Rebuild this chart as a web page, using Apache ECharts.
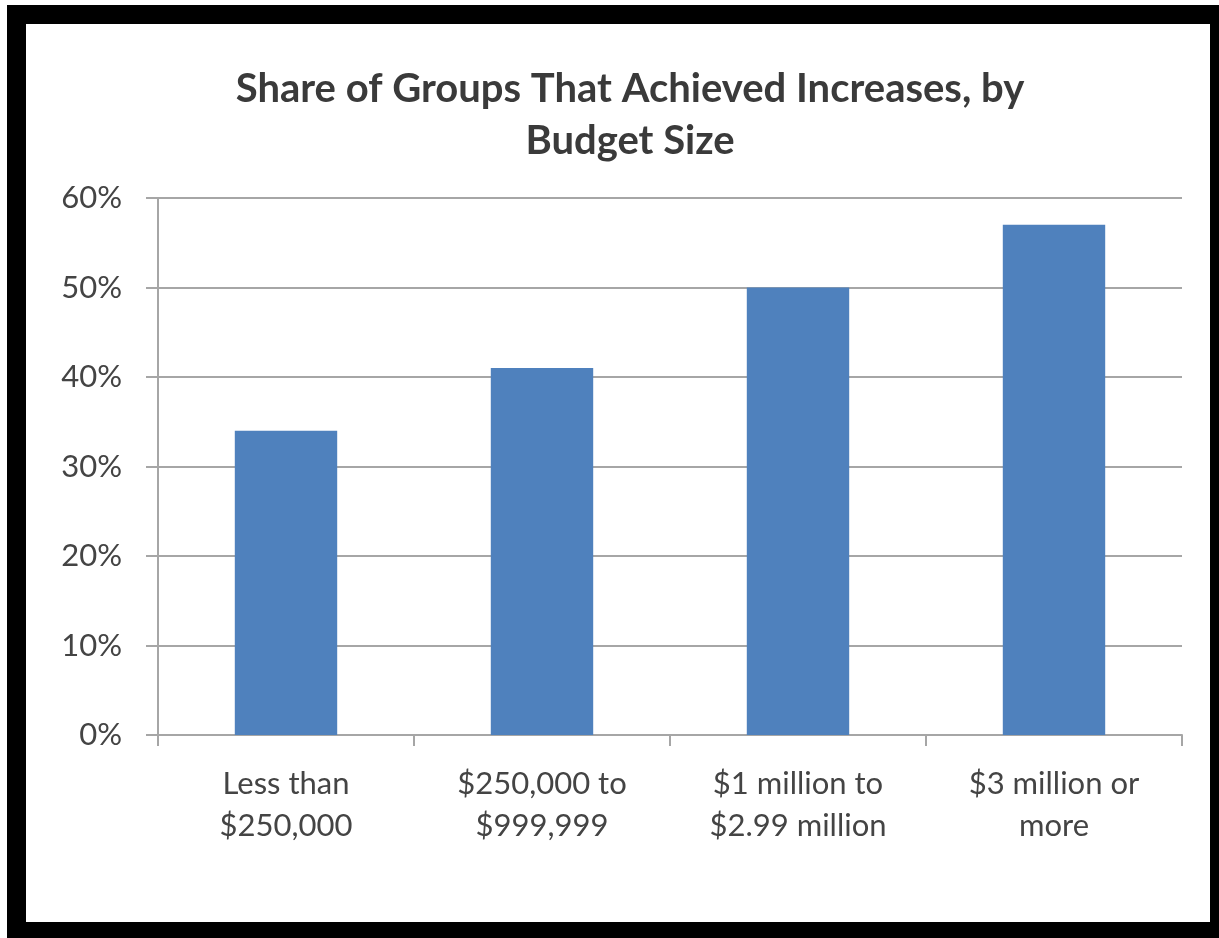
<!DOCTYPE html>
<html>
<head>
<meta charset="utf-8">
<script src="https://cdn.jsdelivr.net/npm/echarts@6/dist/echarts.min.js"></script>
<style>
  html, body { margin: 0; padding: 0; background: #fff; }
  #chart { width: 1219px; height: 938px; }
</style>
</head>
<body>
<div id="chart"></div>
<script>
// budget size groups
const categories = ['Less than\n$250,000', '$250,000 to\n$999,999', '$1 million to\n$2.99 million', '$3 million or\nmore']
// share of groups with increases, in percent
const shares = [34, 41, 50, 57]
const yTicks = { min: 0, max: 60, interval: 10 }

let myChart = echarts.init(document.getElementById('chart'))
let option = {
  backgroundColor: '#fff',
  title: {
    text: 'Share of Groups That Achieved Increases, by\nBudget Size',
    left: 625,
    textAlign: 'center',
    top: 58,
    textStyle: {
      fontFamily: 'Lato',
      fontWeight: 'bold',
      fontSize: 40,
      lineHeight: 52,
      color: '#3a3a3a'
    }
  },
  graphic: [
    {
      type: 'rect',
      shape: { x: 16.5, y: 14.5, width: 1203, height: 917 },
      style: { fill: 'none', stroke: '#000', lineWidth: 19 },
      silent: true
    }
  ],
  grid: {
    left: 158,
    right: 37,
    top: 198,
    bottom: 203
  },
  xAxis: {
    type: 'category',
    data: categories,
    boundaryGap: true,
    axisLine: { show: true, lineStyle: { color: '#a6a6a6', width: 2 } },
    axisTick: { show: true, length: 11, lineStyle: { color: '#a6a6a6', width: 2 } },
    axisLabel: {
      margin: 28,
      fontFamily: 'Lato',
      fontSize: 31,
      lineHeight: 42,
      color: '#444'
    }
  },
  yAxis: {
    type: 'value',
    min: yTicks.min,
    max: yTicks.max,
    interval: yTicks.interval,
    axisLine: { show: true, lineStyle: { color: '#a6a6a6', width: 2 } },
    axisTick: { show: true, length: 12, lineStyle: { color: '#a6a6a6', width: 2 } },
    splitLine: { show: true, lineStyle: { color: '#a6a6a6', width: 2 } },
    axisLabel: {
      formatter: '{value}%',
      margin: 36,
      fontFamily: 'Lato',
      fontSize: 31,
      color: '#444'
    }
  },
  series: [
    {
      type: 'bar',
      data: shares,
      barWidth: '40%',
      itemStyle: { color: '#4f81bd' },
      silent: true
    }
  ]
};

option && myChart.setOption(option);
</script>
</body>
</html>
